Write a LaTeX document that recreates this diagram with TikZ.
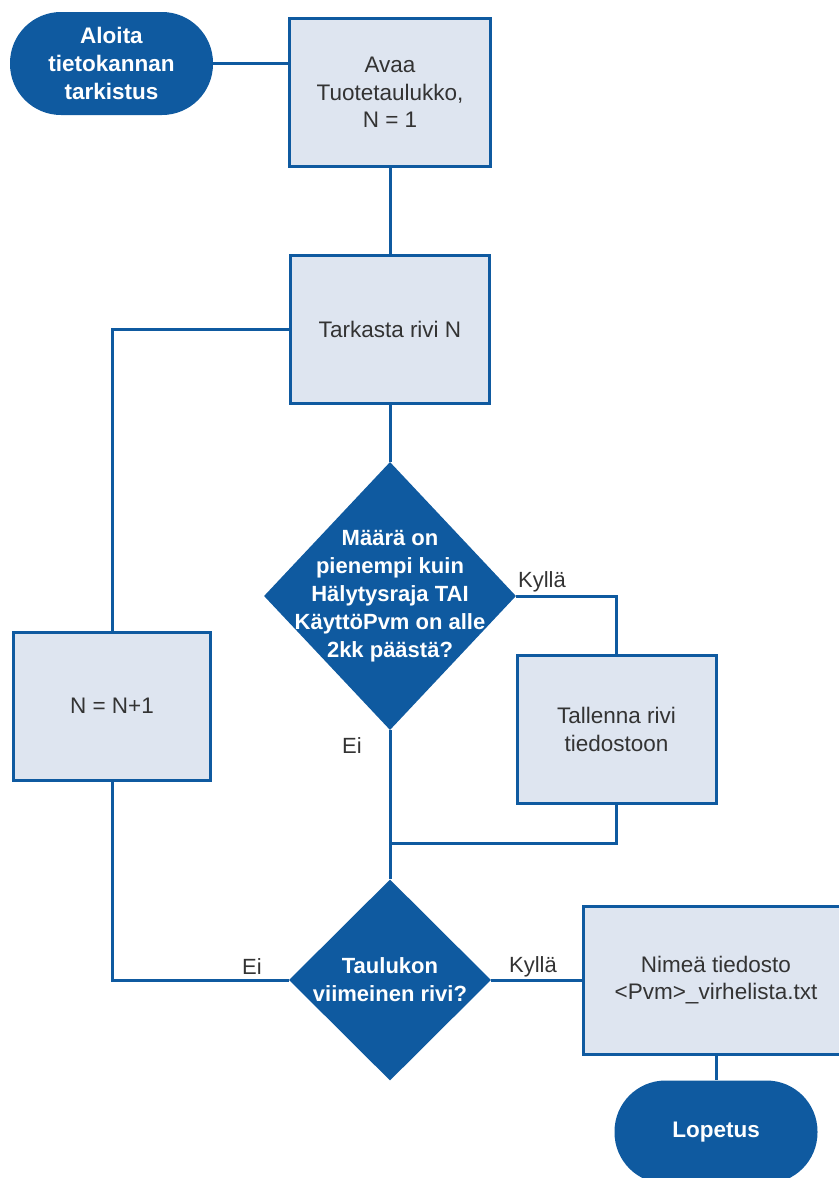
\documentclass[tikz,border=0pt]{standalone}
\usepackage{fontspec}
\setmainfont{Liberation Sans}
\usetikzlibrary{shapes.geometric}
\definecolor{flowblue}{HTML}{0F5AA0}
\definecolor{boxfill}{HTML}{DEE5F0}
\definecolor{txtgray}{HTML}{333333}
\begin{document}
\begin{tikzpicture}[x=1pt,y=-1pt,
  procbox/.style={rectangle, draw=flowblue, line width=3pt, fill=boxfill,
    minimum width=199pt, minimum height=148pt, inner sep=0pt, align=center,
    text=txtgray, font=\fontsize{22.5}{27.5}\selectfont},
  term/.style={rectangle, rounded corners=51pt, fill=flowblue,
    minimum width=203pt, minimum height=103pt, inner sep=0pt, align=center,
    text=white, font=\bfseries\fontsize{22.5}{28}\selectfont},
  decision/.style={diamond, fill=flowblue, inner sep=0pt},
  dtext/.style={align=center, text=white, inner sep=0pt,
    font=\bfseries\fontsize{22}{28}\selectfont},
  conn/.style={draw=flowblue, line width=3pt},
  lbl/.style={text=txtgray, inner sep=0pt, font=\fontsize{22}{26}\selectfont}
]
\useasboundingbox (0,0) rectangle (838,1178);

% nodes
\node[term] (start) at (111.5,63.5) {Aloita\\tietokannan\\tarkistus};
\node[procbox, minimum width=201pt] (avaa) at (390,92.5) {Avaa\\Tuotetaulukko,\\N = 1};
\node[procbox] (tark) at (390,329) {Tarkasta rivi N};
\node[decision, minimum width=252pt, minimum height=268pt] (dia1) at (390,596) {};
\node[dtext] (dia1txt) at (dia1.center) {Määrä on\\pienempi kuin\\Hälytysraja TAI\\KäyttöPvm on alle\\2kk päästä?};
\node[procbox, minimum width=197pt] (nplus) at (112,706) {N = N+1};
\node[procbox] (tall) at (616.5,729.5) {Tallenna rivi\\tiedostoon};
\coordinate (merge) at (390,843);
\node[decision, minimum width=202pt, minimum height=201pt] (dia2) at (390,980) {};
\node[dtext] (dia2txt) at (dia2.center) {Taulukon\\viimeinen rivi?};
\node[procbox, minimum width=265pt] (nimea) at (716,980) {Nimeä tiedosto\\<Pvm>\_virhelista.txt};
\node[term] (stop) at (716,1132) {Lopetus};

% connectors
\draw[conn] (start.east) -- (start.east -| avaa.west);
\draw[conn] (avaa.south) -- (tark.north);
\draw[conn] (tark.west) -| (nplus.north);
\draw[conn] (tark.south) -- (dia1.north);
\draw[conn] (dia1.east) -| (tall.north);
\draw[conn] (dia1.south) -- (dia2.north);
\draw[conn] (tall.south) |- (merge);
\draw[conn] (nplus.south) |- (dia2.west);
\draw[conn] (dia2.east) -- (nimea.west);
\draw[conn] (nimea.south) -- (stop.north);

% branch labels
\node[lbl] (k1) at (542,582) {Kyllä};
\node[lbl] (e1) at (352,746) {Ei};
\node[lbl] (e2) at (252,967) {Ei};
\node[lbl] (k2) at (533,967) {Kyllä};
\end{tikzpicture}
\end{document}
